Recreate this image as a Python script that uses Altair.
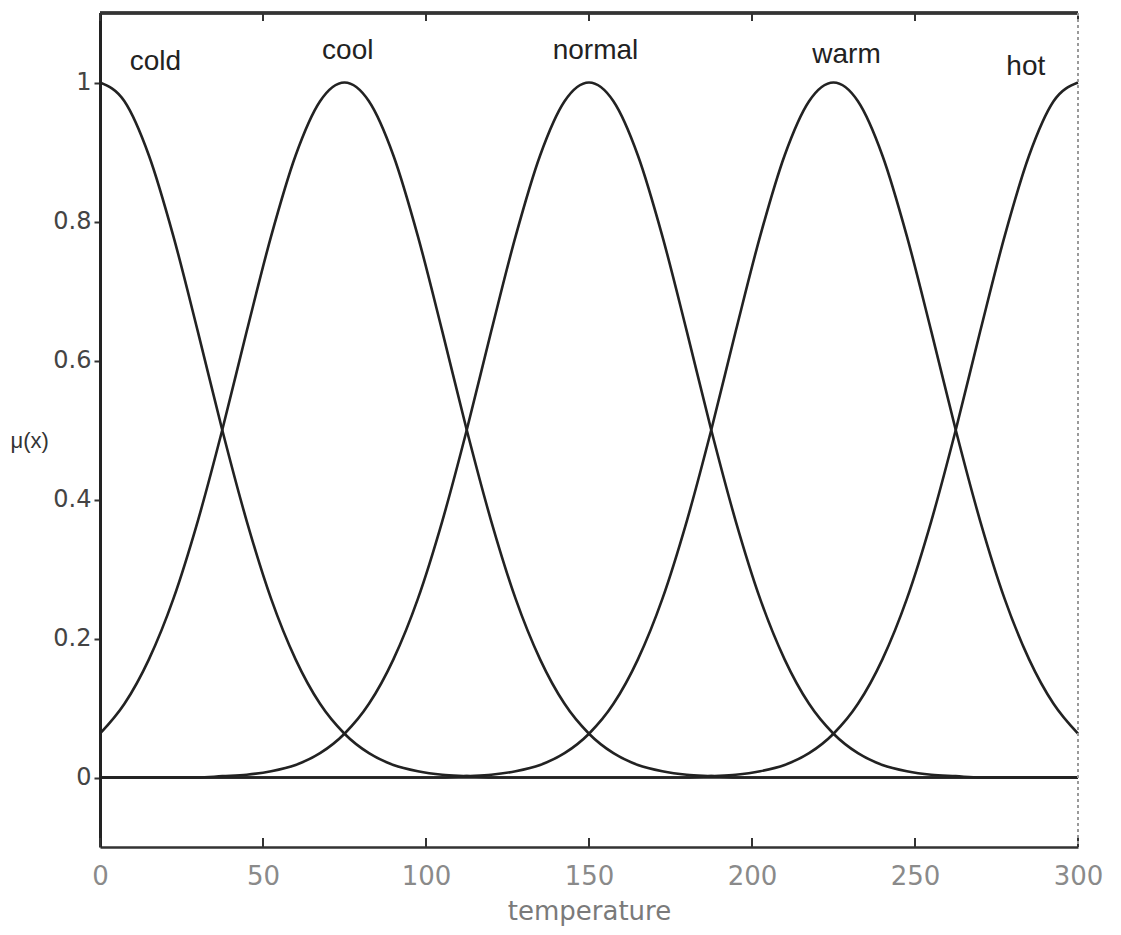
import altair as alt
import pandas as pd

# x positions (temperature) where the curves were read
temperature = [0, 7.5, 15, 22.5, 30, 37.5, 45, 52.5, 60, 67.5,
               75, 82.5, 90, 97.5, 105, 112.5, 120, 127.5, 135, 142.5,
               150, 157.5, 165, 172.5, 180, 187.5, 195, 202.5, 210, 217.5,
               225, 232.5, 240, 247.5, 255, 262.5, 270, 277.5, 285, 292.5, 300]

cold = [1.0, 0.973, 0.895, 0.779, 0.642, 0.5, 0.369, 0.257, 0.17, 0.106,
        0.063, 0.035, 0.018, 0.009, 0.004, 0.002, 0, 0, 0, 0,
        0, 0, 0, 0, 0, 0, 0, 0, 0, 0,
        0, 0, 0, 0, 0, 0, 0, 0, 0, 0, 0]
cool = [0.063, 0.106, 0.17, 0.257, 0.369, 0.5, 0.642, 0.779, 0.895, 0.973,
        1.0, 0.973, 0.895, 0.779, 0.642, 0.5, 0.369, 0.257, 0.17, 0.106,
        0.063, 0.035, 0.018, 0.009, 0.004, 0.002, 0, 0, 0, 0,
        0, 0, 0, 0, 0, 0, 0, 0, 0, 0, 0]
normal = [0, 0, 0, 0, 0, 0.002, 0.004, 0.009, 0.018, 0.035,
          0.063, 0.106, 0.17, 0.257, 0.369, 0.5, 0.642, 0.779, 0.895, 0.973,
          1.0, 0.973, 0.895, 0.779, 0.642, 0.5, 0.369, 0.257, 0.17, 0.106,
          0.063, 0.035, 0.018, 0.009, 0.004, 0.002, 0, 0, 0, 0, 0]
warm = [0, 0, 0, 0, 0, 0, 0, 0, 0, 0,
        0, 0, 0, 0, 0, 0.002, 0.004, 0.009, 0.018, 0.035,
        0.063, 0.106, 0.17, 0.257, 0.369, 0.5, 0.642, 0.779, 0.895, 0.973,
        1.0, 0.973, 0.895, 0.779, 0.642, 0.5, 0.369, 0.257, 0.17, 0.106, 0.063]
hot = [0, 0, 0, 0, 0, 0, 0, 0, 0, 0,
       0, 0, 0, 0, 0, 0, 0, 0, 0, 0,
       0, 0, 0, 0, 0, 0.002, 0.004, 0.009, 0.018, 0.035,
       0.063, 0.106, 0.17, 0.257, 0.369, 0.5, 0.642, 0.779, 0.895, 0.973, 1.0]

set_names = ["cold", "cool", "normal", "warm", "hot"]
label_x = [17, 76, 152, 229, 284]
label_y = [1.03, 1.045, 1.045, 1.04, 1.022]

x_ticks = [0, 50, 100, 150, 200, 250, 300]
y_ticks = [0, 0.2, 0.4, 0.6, 0.8, 1.0]

W, H = 978, 834
FONT = "Liberation Sans"
TICKFONT = "DejaVu Sans"

series = [cold, cool, normal, warm, hot]
rows = []
for name, vals in zip(set_names, series):
    for t, v in zip(temperature, vals):
        rows.append({"set": name, "temperature": t, "mu": v})
df = pd.DataFrame(rows)
labels_df = pd.DataFrame({"set": set_names, "temperature": label_x, "mu": label_y})
ticks_df = pd.DataFrame({"temperature": x_ticks})

xscale = alt.Scale(domain=[0, 300], nice=False, zero=False)
yscale = alt.Scale(domain=[-0.1, 1.1], nice=False, zero=False)

xaxis = alt.Axis(values=x_ticks, format="d", ticks=False, grid=False,
                 domainColor="#333333", domainWidth=2.5, labelFlush=False,
                 labelFont=TICKFONT, labelFontSize=26, labelColor="#8a8a8a",
                 labelPadding=16, title="temperature",
                 titleFont=TICKFONT, titleFontSize=26, titleFontWeight="normal",
                 titleColor="#7a7a7a", titlePadding=9)
yaxis = alt.Axis(values=y_ticks, format=".1~f", grid=False,
                 domainColor="#222222", domainWidth=3,
                 tickColor="#333333", tickSize=6, tickWidth=2,
                 labelFont=TICKFONT, labelFontSize=24, labelColor="#444444",
                 labelPadding=3, title="\u03bc(x)",
                 titleFont=FONT, titleFontSize=22, titleFontWeight="normal",
                 titleColor="#333333", titleAngle=0, titleAlign="left",
                 titleBaseline="middle", titleX=-90, titleY=427)

X = alt.X("temperature:Q", scale=xscale, axis=xaxis)
Y = alt.Y("mu:Q", scale=yscale, axis=yaxis)

lines = alt.Chart(df).mark_line(
    interpolate="monotone", color="#222222", strokeWidth=2.6
).encode(x=X, y=Y, detail="set:N")

labels = alt.Chart(labels_df).mark_text(
    font=FONT, fontSize=28, color="#222222", baseline="middle", align="center"
).encode(x=X, y=Y, text="set:N")

bottom_ticks = alt.Chart(ticks_df).mark_rule(color="#333333", strokeWidth=2).encode(
    x=X, y=alt.value(H), y2=alt.value(H - 9),
)
top_ticks = alt.Chart(ticks_df).mark_rule(color="#333333", strokeWidth=2).encode(
    x=X, y=alt.value(0), y2=alt.value(8),
)
top_frame = alt.Chart(ticks_df).mark_rule(color="#333333", strokeWidth=2.5).encode(
    x=alt.value(0), x2=alt.value(W), y=alt.value(0)
)
right_frame = alt.Chart(ticks_df).mark_rule(
    color="#9a9a9a", strokeWidth=1.5, strokeDash=[3, 3]
).encode(
    x=alt.value(W), y=alt.value(0), y2=alt.value(H)
)

chart = alt.layer(
    lines, labels, bottom_ticks, top_ticks, top_frame, right_frame
).properties(
    width=W, height=H,
    autosize=alt.AutoSizeParams(type="none"),
    padding={"left": 92, "top": 5, "right": 35, "bottom": 80},
    background="white",
).configure_view(stroke=None)

chart.save("out.html", embed_options={"renderer": "svg", "actions": False})
